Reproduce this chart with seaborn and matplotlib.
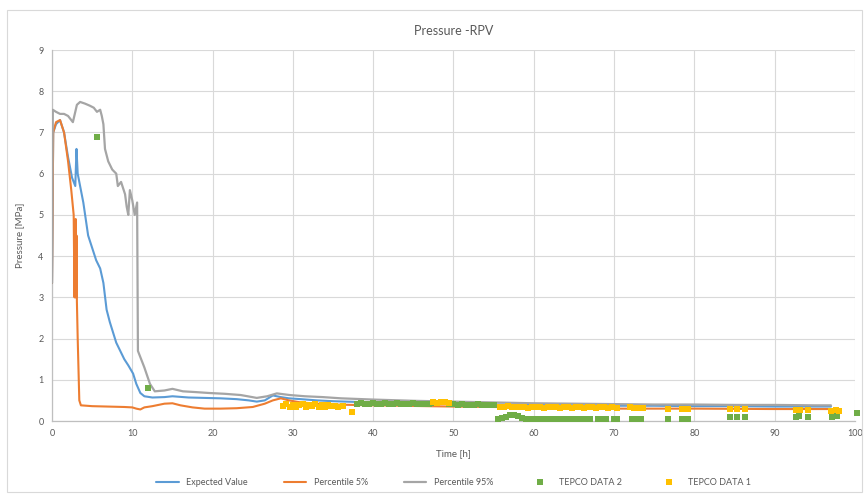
import matplotlib
matplotlib.use("Agg")
import matplotlib.pyplot as plt
import matplotlib.patches as mpatches
import seaborn as sns
import pandas as pd

# ---- Expected value ----
exp_t = [0, 0.15, 0.5, 1.0, 1.5, 2.0, 2.5, 2.9, 3.05, 3.2, 3.6, 3.9, 4.5, 5.0, 5.5,
         6.0, 6.4, 6.8, 7.2, 8.0, 8.5, 9.0, 9.5, 10.1, 10.5, 11.0, 11.5, 12.5, 14,
         15, 17, 19, 21, 23, 24.5, 25.5, 26.5, 27.5, 28.5, 29.5, 31, 33, 35, 40, 45,
         50, 55, 60, 65, 70, 75, 80, 85, 90, 95, 97]
exp_p = [3.35, 7.0, 7.2, 7.3, 7.0, 6.4, 5.9, 5.7, 6.6, 6.0, 5.6, 5.3, 4.5, 4.2, 3.9,
         3.7, 3.35, 2.7, 2.4, 1.9, 1.7, 1.5, 1.35, 1.15, 0.9, 0.68, 0.6, 0.57, 0.58,
         0.6, 0.57, 0.56, 0.55, 0.53, 0.5, 0.47, 0.5, 0.62, 0.58, 0.55, 0.53, 0.5,
         0.48, 0.45, 0.43, 0.42, 0.4, 0.39, 0.38, 0.37, 0.37, 0.36, 0.36, 0.35,
         0.35, 0.35]

# ---- Percentile 5% ----
p5_t = [0, 0.15, 0.5, 1.0, 1.5, 2.0, 2.4, 2.7, 2.8, 2.85, 2.9, 2.95, 3.0, 3.05,
        3.1, 3.2, 3.4, 3.6, 5, 7, 9, 10, 10.5, 11, 11.5, 12.5, 14, 15, 16, 17.5,
        19, 21, 23, 25, 26.5, 27.5, 28.5, 29.5, 31, 33, 35, 40, 50, 60, 70, 80,
        90, 97]
p5_p = [3.35, 7.0, 7.25, 7.3, 7.0, 6.3, 5.6, 5.0, 3.0, 4.8, 3.0, 4.9, 3.0, 4.5,
        2.9, 2.0, 0.5, 0.38, 0.36, 0.35, 0.34, 0.33, 0.3, 0.28, 0.33, 0.36, 0.42,
        0.43, 0.38, 0.33, 0.3, 0.3, 0.31, 0.34, 0.42, 0.5, 0.55, 0.5, 0.45, 0.42,
        0.4, 0.38, 0.35, 0.33, 0.3, 0.3, 0.29, 0.29]

# ---- Percentile 95% ----
p95_t = [0, 0.1, 0.5, 1.0, 1.5, 2.0, 2.4, 2.6, 2.9, 3.1, 3.5, 4.1, 4.7, 5.2, 5.6,
         6.0, 6.2, 6.4, 6.6, 7.0, 7.5, 8.0, 8.2, 8.6, 9.1, 9.3, 9.5, 9.7, 10.0,
         10.3, 10.6, 10.7, 11.5, 12.2, 12.8, 14, 15, 16.3, 18, 19.5, 21.5, 23.5,
         25.5, 26.8, 28, 29.6, 31.5, 33.7, 36, 40, 45, 50, 55, 60, 65, 70, 75, 80,
         85, 90, 95, 97]
p95_p = [3.35, 7.55, 7.5, 7.45, 7.45, 7.4, 7.3, 7.25, 7.5, 7.67, 7.74, 7.7, 7.65,
         7.6, 7.5, 7.55, 7.4, 7.2, 6.6, 6.3, 6.1, 6.0, 5.7, 5.8, 5.5, 5.2, 5.0, 5.6,
         5.35, 5.0, 5.3, 1.7, 1.3, 0.9, 0.72, 0.74, 0.78, 0.72, 0.7, 0.68, 0.66,
         0.63, 0.56, 0.6, 0.67, 0.63, 0.6, 0.58, 0.55, 0.52, 0.49, 0.47, 0.45, 0.43,
         0.42, 0.41, 0.4, 0.4, 0.39, 0.39, 0.38, 0.38]

# ---- TEPCO DATA 2 (measured) ----
tepco2_t = [5.6, 12.0,
            38.0, 38.5, 39.0, 39.5, 40.0, 40.5, 41.0, 41.5, 42.0, 42.5, 43.0, 43.5,
            44.0, 44.5, 45.0, 45.5, 46.0, 46.5, 47.0, 47.5,
            49.5, 50.0, 50.5, 51.0, 51.5, 52.0, 52.5, 53.0, 53.5, 54.0, 54.5, 55.0,
            55.5, 56.0, 56.5, 57.0, 57.5, 58.0, 58.5, 59.0, 59.5, 60.0, 60.5, 61.0,
            61.5, 62.0, 62.5, 63.0, 63.5, 64.0, 64.5, 65.0, 65.5, 66.0, 66.5, 67.0,
            68.0, 68.5, 69.0, 70.0, 70.4,
            72.2, 72.7, 73.4, 76.7, 78.5, 79.2, 84.4, 85.3, 86.3,
            92.7, 93.0, 94.1, 97.1, 97.8, 100.2]
tepco2_p = [6.9, 0.8,
            0.42, 0.43, 0.41, 0.42, 0.44, 0.42, 0.41, 0.43, 0.42, 0.41, 0.43, 0.42,
            0.41, 0.42, 0.43, 0.41, 0.42, 0.41, 0.42, 0.43,
            0.41, 0.42, 0.4, 0.41, 0.4, 0.39, 0.4, 0.41, 0.39, 0.4, 0.38, 0.39,
            0.05, 0.07, 0.1, 0.14, 0.15, 0.12, 0.08, 0.06, 0.05, 0.06, 0.05, 0.06,
            0.05, 0.06, 0.05, 0.05, 0.06, 0.05, 0.06, 0.05, 0.05, 0.06, 0.05, 0.05,
            0.05, 0.06, 0.05, 0.05, 0.06,
            0.06, 0.05, 0.06, 0.06, 0.06, 0.05, 0.1, 0.09, 0.1,
            0.1, 0.11, 0.1, 0.1, 0.11, 0.2]

# ---- TEPCO DATA 1 (measured) ----
tepco1_t = [28.8, 29.2, 29.6, 30.0, 30.4, 30.8, 31.2, 31.6, 32.0, 32.4, 32.8, 33.2,
            33.6, 34.0, 34.4, 34.8, 35.2, 35.6, 36.2, 37.4,
            47.5, 48.0, 48.5, 49.0, 49.5,
            55.8, 56.3, 56.8, 57.3, 57.8, 58.3, 58.8, 59.3, 59.8, 60.3, 60.8, 61.3,
            61.8, 62.3, 62.8, 63.3, 63.8, 64.3, 64.8, 65.3, 65.8, 66.3, 66.8, 67.3,
            67.8, 68.3, 68.8, 69.3, 69.8, 70.3,
            72.0, 72.5, 73.0, 73.6, 76.7, 78.5, 79.2, 84.4, 85.3, 86.3,
            92.7, 93.2, 94.1, 97.0, 97.6, 98.0]
tepco1_p = [0.36, 0.42, 0.35, 0.4, 0.33, 0.38, 0.41, 0.34, 0.39, 0.36, 0.42, 0.35,
            0.38, 0.34, 0.4, 0.36, 0.37, 0.35, 0.36, 0.22,
            0.45, 0.44, 0.46, 0.45, 0.44,
            0.35, 0.33, 0.36, 0.34, 0.33, 0.35, 0.34, 0.32, 0.35, 0.33, 0.34, 0.32,
            0.35, 0.33, 0.34, 0.32, 0.33, 0.35, 0.32, 0.34, 0.33, 0.32, 0.34, 0.33,
            0.32, 0.34, 0.33, 0.32, 0.33, 0.32,
            0.33, 0.32, 0.31, 0.32, 0.3, 0.3, 0.29, 0.3, 0.29, 0.3,
            0.27, 0.26, 0.27, 0.25, 0.26, 0.25]

x_ticks = [0, 10, 20, 30, 40, 50, 60, 70, 80, 90, 100]
y_ticks = [0, 1, 2, 3, 4, 5, 6, 7, 8, 9]

C_BLUE = "#5B9BD5"
C_ORANGE = "#ED7D31"
C_GRAY = "#A5A5A5"
C_YELLOW = "#FFC000"
C_GREEN = "#70AD47"
TXT = "#595959"

sns.set_theme(style="white")
plt.rcParams["font.family"] = ["Lato", "DejaVu Sans"]

fig = plt.figure(figsize=(8.64, 4.94), dpi=100)
ax = fig.add_axes([52 / 864, 1 - 421 / 494, (855 - 52) / 864, (421 - 50) / 494])

df_exp = pd.DataFrame({"t": exp_t, "p": exp_p})
df_p5 = pd.DataFrame({"t": p5_t, "p": p5_p})
df_p95 = pd.DataFrame({"t": p95_t, "p": p95_p})
df_t2 = pd.DataFrame({"t": tepco2_t, "p": tepco2_p})
df_t1 = pd.DataFrame({"t": tepco1_t, "p": tepco1_p})

sns.lineplot(data=df_exp, x="t", y="p", sort=False, color=C_BLUE, lw=1.5,
             label="Expected Value", ax=ax, zorder=3)
sns.lineplot(data=df_p5, x="t", y="p", sort=False, color=C_ORANGE, lw=1.5,
             label="Percentile 5%", ax=ax, zorder=3)
sns.lineplot(data=df_p95, x="t", y="p", sort=False, color=C_GRAY, lw=1.6,
             label="Percentile 95%", ax=ax, zorder=4)
sns.scatterplot(data=df_t2, x="t", y="p", color=C_GREEN, marker="s", s=16,
                linewidth=0, label="TEPCO DATA 2", ax=ax, zorder=5, clip_on=False)
sns.scatterplot(data=df_t1, x="t", y="p", color=C_YELLOW, marker="s", s=16,
                linewidth=0, label="TEPCO DATA 1", ax=ax, zorder=5, clip_on=False)

ax.set_xlim(0, 100)
ax.set_ylim(0, 9)
ax.set_xticks(x_ticks)
ax.set_yticks(y_ticks)
ax.grid(True, color="#D9D9D9", lw=0.8)
ax.set_axisbelow(True)
for side in ["top", "right"]:
    ax.spines[side].set_visible(False)
for side in ["left", "bottom"]:
    ax.spines[side].set_color("#BFBFBF")
    ax.spines[side].set_linewidth(0.9)
ax.tick_params(axis="both", labelsize=6.5, colors=TXT, length=0, pad=6)
ax.set_xlabel("Time [h]", fontsize=7, color=TXT, labelpad=8)
ax.set_ylabel("Pressure [MPa]", fontsize=7, color=TXT, labelpad=10)
ax.set_title("Pressure -RPV", fontsize=9, color=TXT, pad=11)

handles, labels = ax.get_legend_handles_labels()
ax.legend(handles, labels, loc="center", bbox_to_anchor=(0.5, -0.165), ncol=5,
          frameon=False, fontsize=6.5, labelcolor=TXT, handlelength=2.5,
          columnspacing=4.0, markerscale=1.0)

fig.patches.append(mpatches.Rectangle((7 / 864, 2 / 494), 855 / 864, 482 / 494,
                                      transform=fig.transFigure, fill=False,
                                      edgecolor="#D9D9D9", lw=0.8))

fig.savefig("out.png", dpi=100)
